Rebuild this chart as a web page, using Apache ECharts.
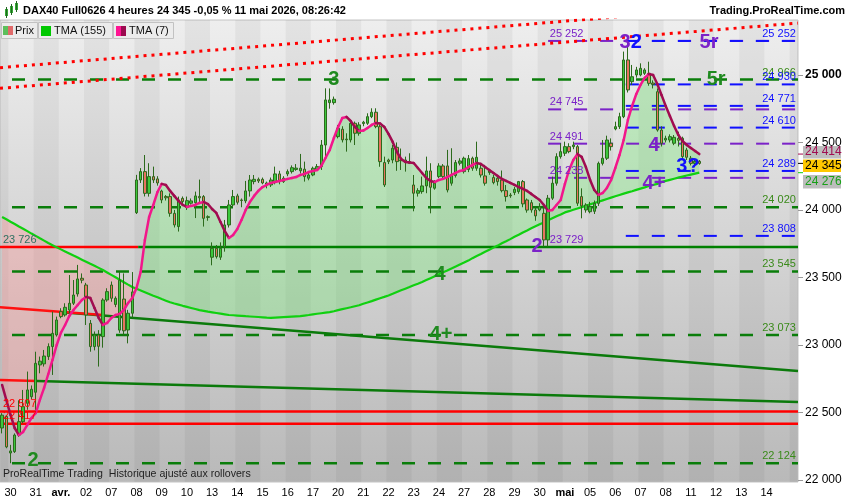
<!DOCTYPE html>
<html><head><meta charset="utf-8">
<script src="https://cdn.jsdelivr.net/npm/echarts@6/dist/echarts.min.js"></script>
<style>html,body{margin:0;padding:0;background:#fff}#c{width:850px;height:500px}</style>
</head><body><div id="c"></div>
<script>
// ================= DATA =================
const dayLabels = ['30','31','avr.','02','07','08','09','10','13','14','15','16','17','20','21','22','23','24','27','28','29','30','mai','05','06','07','08','11','12','13','14'];
const monthLabels = ['avr.','mai'];
const yTicks = [22000, 22500, 23000, 23500, 24000, 24500, 25000];

const open = [22385,22470,22200,22210,22333,22432,22568,22617,22650,22852,
22860,22914,22988,23074,23247,23222,23259,23309,23378,23494,
23444,23160,22988,23074,23062,23333,23444,23300,23110,23340,
23111,23235,23980,24222,24284,24123,24247,24230,24140,24100,
24099,23975,23877,24086,24020,24050,24054,24100,24099,23945,
23650,23716,23650,23728,23889,24037,24104,24074,24067,24141,
24210,24227,24227,24200,24185,24210,24267,24235,24267,24284,
24300,24290,24302,24235,24259,24300,24321,24481,24795,24795,
24543,24598,24525,24519,24642,24568,24640,24642,24691,24724,
24617,24351,24370,24370,24464,24370,24370,24358,24185,24124,
24136,24178,24289,24161,24247,24326,24326,24198,24255,24346,
24284,24300,24383,24309,24309,24252,24277,24240,24235,24222,
24143,24110,24129,24136,24210,24074,24054,24000,24000,23975,
23778,24087,24198,24395,24420,24469,24469,24469,24099,24000,
23987,23990,24049,24345,24383,24494,24600,24617,24691,25111,
24950,25000,25000,25012,25012,24940,24876,24592,24518,24518,
24494,24530,24531,24444,24383,24345,24360];
const high = [22495,22480,22260,22345,22590,22667,22803,22700,22950,22914,
22963,23012,23247,23210,23272,23309,23518,23481,23593,23530,
23460,23185,23100,23110,23346,23420,23470,23360,23540,23530,
23260,23540,24260,24310,24407,24346,24321,24250,24150,24110,
24123,24000,24099,24100,24099,24085,24136,24225,24110,23960,
23760,23740,23760,23926,24074,24148,24120,24085,24215,24259,
24259,24240,24240,24210,24240,24321,24290,24250,24300,24330,
24340,24415,24358,24280,24321,24340,24518,24901,24900,24840,
24630,24620,24568,24667,24655,24650,24660,24716,24753,24753,
24630,24395,24380,24481,24500,24455,24395,24420,24259,24161,
24247,24395,24346,24220,24346,24340,24445,24457,24370,24383,
24395,24407,24395,24506,24334,24334,24300,24260,24250,24292,
24185,24125,24170,24215,24222,24085,24074,24020,24050,24050,
24111,24247,24420,24494,24506,24494,24506,24481,24160,24050,
24060,24070,24358,24518,24550,24530,24654,24720,25173,25252,
25074,25060,25086,25050,25098,24960,24900,24620,24550,24560,
24555,24580,24543,24460,24400,24380,24370];
const low = [22345,22235,22124,22200,22320,22420,22520,22600,22506,22790,
22840,22889,22778,23062,23198,23210,23222,23296,23358,23457,
23148,22950,22960,22840,22980,23320,23320,23280,23090,23070,
23012,23200,23970,24200,24100,24099,24200,24180,24050,24070,
23950,23870,23840,24040,24000,24040,23940,24050,23877,23920,
23590,23640,23630,23691,23870,24020,24040,24020,24050,24099,
24190,24200,24190,24160,24170,24190,24190,24200,24250,24270,
24290,24270,24210,24220,24250,24290,24296,24395,24750,24780,
24530,24500,24432,24500,24481,24550,24620,24630,24680,24605,
24320,24170,24340,24346,24290,24296,24284,24340,23990,24099,
24120,24124,23975,24150,24235,24235,24130,24180,24240,24330,
24270,24280,24290,24290,24240,24180,24260,24190,24180,24130,
24062,24090,24110,24120,24020,23980,23980,23920,23990,23729,
23729,24074,24180,24380,24400,24420,24450,24030,23938,23980,
23975,23970,24030,24330,24370,24440,24590,24600,24680,24870,
24926,24980,24990,25000,24920,24900,24580,24470,24500,24500,
24480,24470,24370,24370,24330,24320,24335];
const close = [22480,22245,22215,22333,22432,22543,22667,22672,22864,22880,
22918,22988,23086,23185,23210,23279,23309,23370,23489,23480,
23222,22988,23074,22990,23333,23395,23346,23346,23480,23105,
23235,23393,24222,24284,24123,24247,24222,24200,24074,24090,
23975,23889,24074,24062,24069,24067,24104,24090,23938,23950,
23716,23654,23716,23889,24037,24099,24057,24070,24141,24222,
24227,24215,24200,24190,24222,24267,24210,24210,24284,24313,
24310,24309,24247,24259,24309,24321,24481,24815,24815,24820,
24605,24519,24520,24642,24568,24630,24650,24691,24724,24617,
24358,24185,24358,24457,24358,24365,24358,24346,24124,24143,
24178,24289,24168,24198,24326,24247,24148,24259,24351,24363,
24383,24380,24309,24390,24259,24198,24289,24203,24210,24143,
24099,24105,24153,24210,24045,23999,24000,23956,24025,23778,
24087,24198,24395,24432,24469,24432,24481,24050,24030,24037,
24024,24049,24345,24383,24518,24469,24617,24691,25111,24889,
24987,25037,25049,25037,24938,24930,24592,24494,24531,24543,
24538,24516,24395,24390,24345,24360,24345];

const tma7 = [22704,22593,22482,22385,22333,22356,22408,22459,22496,22593,
22682,22785,22889,23000,23089,23148,23215,23259,23296,23333,
23356,23348,23274,23200,23148,23163,23200,23222,23230,23259,
23311,23348,23422,23541,23778,23948,24037,24133,24193,24185,
24141,24104,24067,24037,24022,24030,24037,24052,24059,24044,
24007,23978,23911,23844,23793,23815,23859,23926,24000,24059,
24104,24141,24170,24185,24200,24207,24215,24222,24230,24237,
24244,24259,24267,24281,24289,24296,24326,24385,24444,24533,
24615,24681,24689,24659,24615,24585,24588,24607,24630,24644,
24640,24615,24563,24504,24430,24378,24356,24352,24348,24311,
24274,24237,24215,24207,24222,24230,24244,24259,24274,24289,
24296,24318,24333,24348,24341,24318,24296,24274,24252,24230,
24215,24200,24185,24170,24156,24141,24119,24096,24074,24037,
23993,24000,24037,24074,24193,24296,24370,24415,24393,24318,
24222,24148,24111,24126,24163,24222,24311,24407,24519,24667,
24770,24859,24926,24978,25007,25000,24933,24852,24770,24696,
24622,24556,24511,24482,24459,24437,24414];
const tma155 = [23948,23931,23913,23896,23878,23861,23843,23825,23808,23790,
23773,23755,23739,23723,23708,23693,23678,23662,23647,23632,
23617,23601,23586,23571,23555,23537,23519,23501,23483,23465,
23447,23430,23416,23404,23391,23378,23365,23353,23340,23328,
23316,23307,23299,23290,23282,23274,23266,23258,23253,23247,
23242,23237,23232,23227,23222,23220,23218,23216,23213,23211,
23209,23207,23205,23202,23200,23202,23204,23206,23208,23210,
23212,23214,23218,23222,23227,23231,23235,23239,23243,23250,
23258,23265,23272,23279,23287,23294,23305,23315,23325,23336,
23346,23356,23367,23379,23392,23405,23417,23429,23442,23454,
23467,23481,23495,23509,23523,23538,23552,23567,23581,23596,
23610,23625,23643,23659,23674,23690,23705,23721,23736,23753,
23768,23784,23801,23816,23833,23848,23864,23879,23894,23908,
23923,23938,23953,23967,23982,23991,24001,24011,24021,24031,
24041,24051,24061,24071,24081,24091,24101,24111,24121,24130,
24139,24149,24158,24167,24177,24185,24193,24206,24215,24223,
24231,24239,24247,24255,24262,24269,24276];

const greenLevels = [24966, 24020, 23545, 23073, 22124];
const blueLevels = [25252, 24930, 24771, 24610, 24289, 23808];
const purpleLevels = [25252, 24745, 24491, 24238];
const purpleMarks = [25252, 24745, 24491, 24238, 23729];
const redLevels = [22507, 22417];
const supportLevel = 23726;

// trend lines: [bar, price] endpoints
const channelUpper = [[-0.5, 25054], [189.5, 25540]];
const channelLower = [[-0.5, 24901], [189.5, 25384]];
const trendARed = [[-0.5, 23279], [24.0, 23222]];
const trendAGreen = [[14.3, 23243], [189.5, 22808]];
const trendBRed = [[-0.5, 22741], [8.3, 22734]];
const trendBGreen = [[8.3, 22734], [189.5, 22578]];

// wave labels: [text, bar, price]
const greenWaves = [['2', 7.4, 22148], ['3', 79.0, 24963], ['4', 104.3, 23519], ['4+', 104.5, 23074], ['5r', 170.0, 24963]];
const purpleWaves = [['5r', 168.3, 25244], ['3', 148.3, 25244], ['2', 127.4, 23733], ['4', 155.2, 24474], ['4+', 155.2, 24193]];
const blueWaves = [['2', 151.0, 25244], ['3?', 163.3, 24319]];

// ================= CHART =================
const N = 190;
const FONT = '"Liberation Sans", Arial, sans-serif';
const GREEN_TXT = '#3a8a1a', BLUE = '#1010ff', PURPLE = '#7b22c8', DGREEN = '#0a7d0a';
const fmt = v => String(v).replace(/\B(?=(\d{3})+(?!\d))/g, ' ');
const cats = Array.from({length: N}, (_, k) => String(k));
const dayAt = {}; dayLabels.forEach((d, i) => { dayAt[2 + 6 * i] = d; });
const candles = open.map((o, k) => [o, close[k], low[k], high[k]]);
const END = 189.5, START = -0.5;

const stripes = [];
for (let d = -1; d <= 31; d += 2) {
  stripes.push([{xAxis: Math.max(START, 1.5 + 6 * d)}, {xAxis: Math.min(END, 7.5 + 6 * d)}]);
}

function seg(points, color, width, type, z, dashOffset) {
  return {type: 'line', xAxisIndex: 1, yAxisIndex: 0, data: points, symbol: 'none', silent: true,
    lineStyle: {color, width, type: type || 'solid', cap: 'butt', dashOffset: dashOffset || 0}, z: z, clip: true};
}
const levelSeries = [];
greenLevels.forEach(v => levelSeries.push(seg([[START, v], [END, v]], DGREEN, 2.5, [13, 13], 3, 14)));
purpleLevels.forEach(v => levelSeries.push(seg([[130.0, v], [END, v]], PURPLE, 2, [13, 13], 3)));
blueLevels.forEach(v => levelSeries.push(seg([[148.5, v], [END, v]], BLUE, 2, [13, 13], 3)));
redLevels.forEach(v => levelSeries.push(seg([[START, v], [END, v]], '#ff0000', 2.5, 'solid', 3)));
levelSeries.push(seg([[START, supportLevel], [32.4, supportLevel]], '#ff0000', 2.5, 'solid', 3));
levelSeries.push(seg([[32.4, supportLevel], [END, supportLevel]], '#008000', 2.5, 'solid', 3));
levelSeries.push(seg(trendAGreen, '#0b7a0b', 2.5, 'solid', 3));
levelSeries.push(seg(trendARed, '#ff1010', 2.5, 'solid', 3));
levelSeries.push(seg(trendBGreen, '#0b7a0b', 2.5, 'solid', 3));
levelSeries.push(seg(trendBRed, '#ff1010', 2.5, 'solid', 3));
levelSeries.push(seg(channelUpper, '#ff0000', 3, [3, 5], 3));
levelSeries.push(seg(channelLower, '#ff0000', 3, [3, 5], 3));

const tmaSegs = [];
for (let k = 0; k < tma7.length - 1; k++) {
  const up = tma7[k + 1] >= tma7[k];
  tmaSegs.push({coords: [[k, tma7[k]], [k + 1, tma7[k + 1]]], lineStyle: {color: up ? '#f2178b' : '#a10c50'}});
}

function textSeries(items, color, size, weight, align, offset, z) {
  return {type: 'scatter', xAxisIndex: 1, yAxisIndex: 0, symbolSize: 0.01, silent: true, z: z || 20,
    itemStyle: {color: 'rgba(0,0,0,0)', opacity: 1},
    data: items.map(it => ({value: [it[1], it[2]], label: {formatter: it[0]}})),
    label: {show: true, position: 'inside', color, opacity: 1, fontSize: size, fontWeight: weight, fontFamily: FONT,
      textBorderWidth: 0, align: align, verticalAlign: 'middle', offset: offset}};
}
const valLabel = (arr, bar) => arr.map(v => [fmt(v), bar, v]);

const bandG = tma7.map((v, k) => Math.max(v - tma155[k], 0));
const bandP = tma7.map((v, k) => Math.max(tma155[k] - v, 0));
const hid = {opacity: 0};

const chart = echarts.init(document.getElementById('c'), null, {width: 850, height: 500});
const option = {
  animation: false,
  backgroundColor: '#ffffff',
  grid: {left: 0, right: 52, top: 20, bottom: 18, show: true, borderWidth: 1, borderColor: '#c4c4c4',
    backgroundColor: {type: 'linear', x: 0, y: 0, x2: 0, y2: 1, colorStops: [{offset: 0, color: '#eeeeee'}, {offset: 1, color: '#b9b9b9'}]}},
  xAxis: [
    {type: 'category', data: cats, boundaryGap: true, axisLine: {show: false}, axisTick: {show: false}, splitLine: {show: false},
      axisLabel: {interval: (i) => dayAt[i] !== undefined, margin: 5, fontSize: 11, color: '#000', fontFamily: FONT,
        formatter: (v, i) => { const t = dayAt[+v]; return monthLabels.includes(t) ? '{m|' + t + '}' : t; },
        rich: {m: {fontWeight: 'bold', fontSize: 11, color: '#000', fontFamily: FONT}}}},
    {type: 'value', min: START, max: END, show: false}
  ],
  yAxis: {type: 'value', position: 'right', min: 21985, max: 25407, splitLine: {show: false},
    axisLine: {show: false},
    axisTick: {show: false},
    axisLabel: {customValues: yTicks, color: '#000', fontSize: 12, margin: 7, fontFamily: FONT,
      formatter: v => v === 25000 ? '{b|' + fmt(v) + '}' : fmt(v),
      rich: {b: {fontWeight: 'bold', fontSize: 12, color: '#000', fontFamily: FONT}}}},
  series: [
    {type: 'line', xAxisIndex: 1, data: [], silent: true, z: 0,
      markArea: {silent: true, itemStyle: {color: 'rgba(0,0,0,0.045)'}, data: stripes}},
    {type: 'line', data: tma155, stack: 'g', symbol: 'none', lineStyle: hid, silent: true, z: 1},
    {type: 'line', data: bandG, stack: 'g', symbol: 'none', lineStyle: hid, silent: true, z: 1,
      areaStyle: {color: 'rgba(100,240,100,0.3)', opacity: 1}},
    {type: 'line', data: tma7, stack: 'p', symbol: 'none', lineStyle: hid, silent: true, z: 1},
    {type: 'line', data: bandP, stack: 'p', symbol: 'none', lineStyle: hid, silent: true, z: 1,
      areaStyle: {color: 'rgba(255,150,150,0.36)', opacity: 1}},
    ...levelSeries,
    {type: 'line', data: tma155, symbol: 'none', silent: true, z: 4, lineStyle: {color: '#10d010', width: 2.2}},
    {type: 'candlestick', data: candles, barWidth: 3, silent: true, z: 5,
      itemStyle: {color: '#3cc83c', color0: '#e8735f', borderColor: '#2c6a1c', borderColor0: '#2c6a1c', borderWidth: 1}},
    {type: 'lines', coordinateSystem: 'cartesian2d', xAxisIndex: 1, yAxisIndex: 0, polyline: false, silent: true, z: 6,
      lineStyle: {width: 2.5, opacity: 1, cap: 'round'}, data: tmaSegs},
    textSeries(valLabel(greenLevels, 189.0), GREEN_TXT, 11, 'normal', 'right', [0, -7]),
    textSeries(valLabel(blueLevels, 189.0), BLUE, 11, 'normal', 'right', [0, -7]),
    textSeries(valLabel(purpleMarks, 130.4), PURPLE, 11, 'normal', 'left', [0, -7]),
    textSeries(valLabel(redLevels, 0.2), '#ff0000', 11, 'normal', 'left', [0, -8]),
    textSeries(valLabel([supportLevel], 0.2), '#2d7060', 11, 'normal', 'left', [0, -7]),
    textSeries(greenWaves, '#1f8a1f', 20, 'bold', 'center', [0, 0], 22),
    textSeries(purpleWaves, PURPLE, 20, 'bold', 'center', [0, 0], 22),
    textSeries(blueWaves, BLUE, 20, 'bold', 'center', [0, 0], 23)
  ]
};
chart.setOption(option);

// header / legend / price boxes / axis ticks
const lastClose = close[close.length - 1];
const last7 = tma7[tma7.length - 1];
const last155 = tma155[tma155.length - 1];
const py = v => chart.convertToPixel({yAxisIndex: 0}, v);
const yC = py(lastClose), y7 = py(last7), y155 = py(last155);
const cTop = yC - 4, h = 12.5, bx = 803, bw = 38;
const g = [];
function txt(x, y, text, font, fill, align) {
  g.push({type: 'text', x, y, z: 100, style: {text, font, fill, align: align || 'left', verticalAlign: 'middle'}});
}
function rect(x, y, w, hh, fill, stroke) {
  g.push({type: 'rect', z: 99, shape: {x, y, width: w, height: hh}, style: {fill, stroke: stroke || null, lineWidth: 1}});
}
function tick(y, color) {
  g.push({type: 'line', z: 100, shape: {x1: 798, y1: y, x2: 803, y2: y}, style: {stroke: color, lineWidth: 1}});
}
yTicks.forEach(v => tick(Math.round(py(v)) + 0.5, '#999'));
// candle icon
rect(5, 9, 3, 7, '#33aa33'); rect(10, 6, 3, 7, '#33aa33'); rect(15, 3, 3, 7, '#33aa33');
g.push({type: 'line', z: 100, shape: {x1: 6.5, y1: 7, x2: 6.5, y2: 18}, style: {stroke: '#226622', lineWidth: 1}});
g.push({type: 'line', z: 100, shape: {x1: 11.5, y1: 4, x2: 11.5, y2: 15}, style: {stroke: '#226622', lineWidth: 1}});
g.push({type: 'line', z: 100, shape: {x1: 16.5, y1: 1, x2: 16.5, y2: 12}, style: {stroke: '#226622', lineWidth: 1}});
txt(23, 11, 'DAX40 Full0626 4 heures 24 345 -0,05 % 11 mai 2026, 08:26:42', 'bold 11px ' + FONT, '#000');
txt(845, 11, 'Trading.ProRealTime.com', 'bold 11px ' + FONT, '#000', 'right');
// legend
rect(1.5, 22.5, 36, 16, '#ececec', '#c2c2c2'); rect(38.5, 22.5, 74, 16, '#ececec', '#c2c2c2'); rect(113.5, 22.5, 60, 16, '#ececec', '#c2c2c2');
rect(3, 26, 5, 9, '#5cbf5c'); rect(8, 26, 5, 9, '#e06a6a');
txt(15, 31, 'Prix', '11px ' + FONT, '#111');
rect(41, 26, 10, 10, '#00c800');
txt(54, 31, 'TMA (155)', '11px ' + FONT, '#111');
rect(116, 26, 5, 10, '#ff1493'); rect(121, 26, 5, 10, '#9b0a4f');
txt(129, 31, 'TMA (7)', '11px ' + FONT, '#111');
// bottom note
txt(3, 474, 'ProRealTime Trading  Historique ajusté aux rollovers', '10.6px ' + FONT, '#222');
// right price boxes
tick(y7, '#a10c50'); tick(yC, '#000'); tick(y155, '#10cc10');
rect(bx, cTop - h - 1, bw, h, '#bdbdbd');
txt(bx + 2, cTop - h - 1 + h / 2, fmt(last7), '12px ' + FONT, '#a10c50');
rect(bx, cTop, bw, h, '#ffc800');
txt(bx + 2, cTop + h / 2, fmt(lastClose), '12px ' + FONT, '#000');
rect(bx, cTop + h + 3, bw, h + 1, '#bdbdbd');
txt(bx + 2, cTop + h + 3 + (h + 1) / 2, fmt(last155), '12px ' + FONT, '#18a018');
chart.setOption({graphic: {elements: g}});
</script></body></html>
